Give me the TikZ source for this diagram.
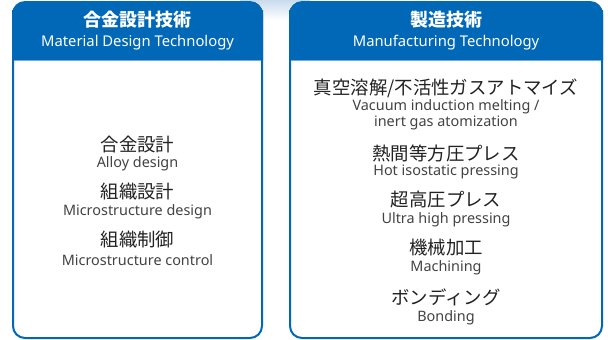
\documentclass[tikz,border=0pt]{standalone}
\usepackage{fontspec}
\setmainfont{Noto Sans}
\newfontfamily\jpfont{Noto Sans CJK JP}
\definecolor{hdblue}{HTML}{0068B6}
\definecolor{lineblue}{HTML}{6FA9DC}
\definecolor{topglow}{HTML}{C9DBEE}
\definecolor{txtgray}{HTML}{222222}
\tikzset{
  jp/.style={font=\jpfont\fontsize{18.4}{19}\selectfont, text=txtgray, inner sep=0},
  en/.style={font=\fontsize{14.4}{16}\selectfont, text=txtgray!85, inner sep=0, align=center},
  hdjp/.style={font=\jpfont\bfseries\fontsize{18}{19}\selectfont, text=white, inner sep=0},
  hden/.style={font=\fontsize{14.8}{16}\selectfont, text=white, inner sep=0},
}
\begin{document}
\begin{tikzpicture}[x=1pt,y=-1pt]
        \useasboundingbox (0,0) rectangle (608,340);
        % Lueur en haut entre les cadres
        \shade[top color=topglow, bottom color=white] (240,0) rectangle (310,20);
        % Cadre gauche
        \fill[white, rounded corners=12] (12,1) rectangle (263,339);
        \draw[hdblue, line width=2, rounded corners=12] (13,10) -- (13,338) -- (262,338) -- (262,10);
        \fill[hdblue] (12,60) [rounded corners=13]-- (12,1) -- (263,1) [sharp corners]-- (263,60) -- cycle;
        \draw[lineblue, line width=1] (14,60.5) -- (261,60.5);
        % Cadre droit
        \fill[white, rounded corners=12] (289,1) rectangle (603,339);
        \draw[hdblue, line width=2, rounded corners=12] (290,10) -- (290,338) -- (602,338) -- (602,10);
        \fill[hdblue] (289,60) [rounded corners=13]-- (289,1) -- (603,1) [sharp corners]-- (603,60) -- cycle;
        \draw[lineblue, line width=1] (291,60.5) -- (601,60.5);
        % Titres
        \node[hdjp] (matjp) at (137.5,20) {合金設計技術};
        \node[hden] (maten) at (137.5,43) {Material Design Technology};
        \node[hdjp] (manjp) at (446,20) {製造技術};
        \node[hden] (manen) at (446,43) {Manufacturing Technology};
        % Colonne gauche
        \node[jp] (alloyjp) at (137.5,145) {合金設計};
        \node[en] (alloyen) at (137.5,164) {Alloy design};
        \node[jp] (micdjp) at (137.5,192) {組織設計};
        \node[en] (micden) at (137.5,212) {Microstructure design};
        \node[jp] (micrjp) at (137.5,240) {組織制御};
        \node[en] (micren) at (137.5,260) {Microstructure control};
        % Colonne droite
        \node[jp] (vimjp) at (446,88) {真空溶解/不活性ガスアトマイズ};
        \node[en] (vimen) at (446,115) {Vacuum induction melting /\\inert gas atomization};
        \node[jp] (hipjp) at (446,153) {熱間等方圧プレス};
        \node[en] (hipen) at (446,172) {Hot isostatic pressing};
        \node[jp] (uhpjp) at (446,200) {超高圧プレス};
        \node[en] (uhpen) at (446,220) {Ultra high pressing};
        \node[jp] (macjp) at (446,248) {機械加工};
        \node[en] (macen) at (446,268) {Machining};
        \node[jp] (bonjp) at (446,297) {ボンディング};
        \node[en] (bonen) at (446,318) {Bonding};
    \end{tikzpicture}
\end{document}
